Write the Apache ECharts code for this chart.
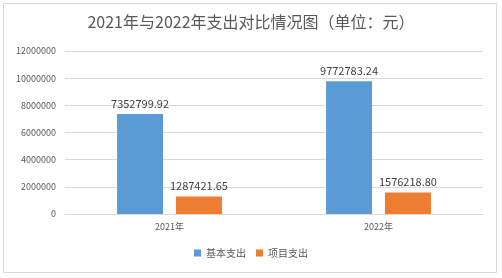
<!DOCTYPE html>
<html><head><meta charset="utf-8">
<script src="https://cdn.jsdelivr.net/npm/echarts@6/dist/echarts.min.js"></script>
<style>html,body{margin:0;padding:0;background:#fff;}#c{width:502px;height:278px;}
#frame{position:absolute;left:3px;top:3px;width:494px;height:270px;border:1px solid #d9d9d9;box-sizing:border-box;pointer-events:none;}</style>
</head><body><div id="c"></div><div id="frame"></div>
<script>
var categories = ['2021年', '2022年'];
var basicSpend = [7352799.92, 9772783.24];
var projectSpend = [1287421.65, 1576218.80];
var seriesNames = ['基本支出', '项目支出'];
var yTicks = [0, 2000000, 4000000, 6000000, 8000000, 10000000, 12000000];

var chart = echarts.init(document.getElementById('c'));
var font = '"Noto Sans CJK SC", "Microsoft YaHei", sans-serif';
chart.setOption({
  animation: false,
  title: { text: '2021年与2022年支出对比情况图（单位：元）', left: 'center', top: 9,
    textStyle: { fontSize: 16, fontWeight: 'normal', color: '#595959', fontFamily: font } },
  legend: { data: seriesNames, bottom: 15, left: 'center', itemWidth: 7, itemHeight: 7, itemGap: 10,
    icon: 'rect', textStyle: { fontSize: 10, color: '#595959', fontFamily: font } },
  grid: { left: 65, right: 19, top: 51, bottom: 64 },
  xAxis: { type: 'category', data: categories,
    axisLine: { lineStyle: { color: '#d9d9d9' } }, axisTick: { show: false },
    axisLabel: { fontSize: 9, color: '#595959', margin: 8, fontFamily: font } },
  yAxis: { type: 'value', min: yTicks[0], max: yTicks[yTicks.length-1], interval: 2000000,
    axisLine: { show: false }, axisTick: { show: false },
    splitLine: { lineStyle: { color: '#d9d9d9' } },
    axisLabel: { fontSize: 9, color: '#595959', margin: 9, fontFamily: font,
      formatter: function(v){ return String(v); } } },
  series: [
    { name: seriesNames[0], type: 'bar', data: basicSpend, barWidth: 46, barGap: '28%',
      itemStyle: { color: '#5B9BD5' },
      label: { show: true, position: 'top', fontSize: 11, color: '#404040', fontFamily: font,
        formatter: function(p){ return p.value.toFixed(2); } } },
    { name: seriesNames[1], type: 'bar', data: projectSpend, barWidth: 46,
      itemStyle: { color: '#ED7D31' },
      label: { show: true, position: 'top', fontSize: 11, color: '#404040', fontFamily: font,
        formatter: function(p){ return p.value.toFixed(2); } } }
  ]
});
</script></body></html>
